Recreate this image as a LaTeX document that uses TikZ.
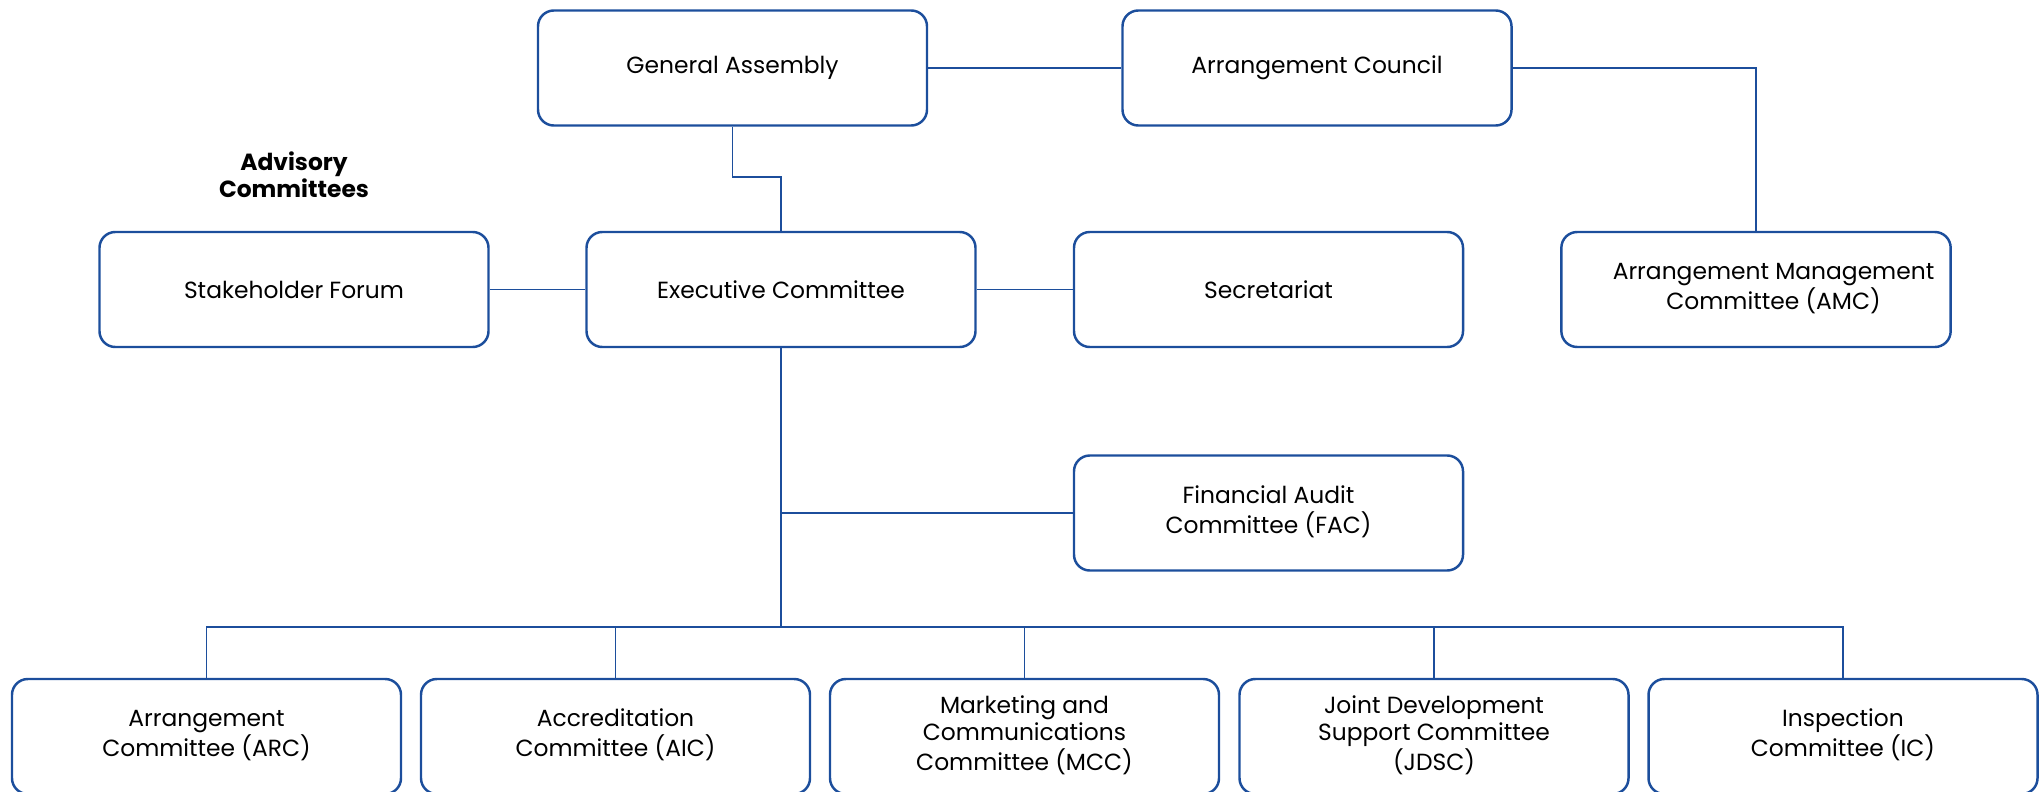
\documentclass[tikz,border=0pt]{standalone}
\usepackage{fontspec}
\setmainfont{Poppins}
\usepackage{tikz}
\usetikzlibrary{calc}
\definecolor{OrgBlue}{HTML}{1C4E9C}

\begin{document}
\begin{tikzpicture}[
    committee/.style={rectangle, draw=OrgBlue, line width=1.4pt, rounded corners=9pt,
      minimum width=7.78cm, minimum height=2.3cm, font=\fontsize{13.3}{15.4}\selectfont},
    link/.style={draw=OrgBlue, line width=0.9pt}
  ]
      \useasboundingbox (0, 0) rectangle (40.88, -15.82);

      % top row
      \node (GA) [committee] at (14.65, -1.36) {General Assembly};
      \node (AC) [committee] at (26.34, -1.36) {Arrangement Council};

      % middle row
      \node (SF) [committee] at (5.88, -5.79) {Stakeholder Forum};
      \node (EC) [committee] at (15.62, -5.79) {Executive Committee};
      \node (SEC) [committee] at (25.37, -5.79) {Secretariat};
      \node (AMC) [committee] at (35.12, -5.79) {
        \begin{tabular}{c}
          \hspace*{0.7cm}Arrangement Management \\
          \hspace*{0.7cm}Committee (AMC)
        \end{tabular}
      };
      \node (ADV) [font=\fontsize{13.3}{15.4}\selectfont\bfseries, align=center] at (5.88, -3.5) {
        Advisory \\ Committees
      };

      \node (FAC) [committee] at (25.37, -10.26) {
        \begin{tabular}{c}
          Financial Audit \\
          Committee (FAC)
        \end{tabular}
      };

      % bottom row
      \node (ARC) [committee] at (4.13, -14.73) {
        \begin{tabular}{c}
          Arrangement \\
          Committee (ARC)
        \end{tabular}
      };
      \node (AIC) [committee] at (12.31, -14.73) {
        \begin{tabular}{c}
          Accreditation \\
          Committee (AIC)
        \end{tabular}
      };
      \node (MCC) [committee] at (20.49, -14.73) {
        \begin{tabular}{c}
          Marketing and \\
          Communications \\
          Committee (MCC)
        \end{tabular}
      };
      \node (JDSC) [committee] at (28.68, -14.73) {
        \begin{tabular}{c}
          Joint Development \\
          Support Committee \\
          (JDSC)
        \end{tabular}
      };
      \node (IC) [committee] at (36.86, -14.73) {
        \begin{tabular}{c}
          Inspection \\
          Committee (IC)
        \end{tabular}
      };

      \coordinate (gaBend) at (15.62, -3.54);
      \coordinate (bus) at (15.62, -12.54);

      \draw[link] (GA) to (AC);
      \draw[link] (AC.east) -| (AMC.north);
      \draw[link] (GA.south) |- (gaBend) -- (EC.north);
      \draw[link] (SF) to (EC);
      \draw[link] (EC) to (SEC);
      \draw[link] (EC.south) -- (bus);
      \draw[link] (EC.south |- FAC.west) -- (FAC.west);
      \foreach \c in {ARC, AIC, MCC, JDSC, IC}
        \draw[link] (\c.north) |- (bus);
    \end{tikzpicture}
\end{document}
